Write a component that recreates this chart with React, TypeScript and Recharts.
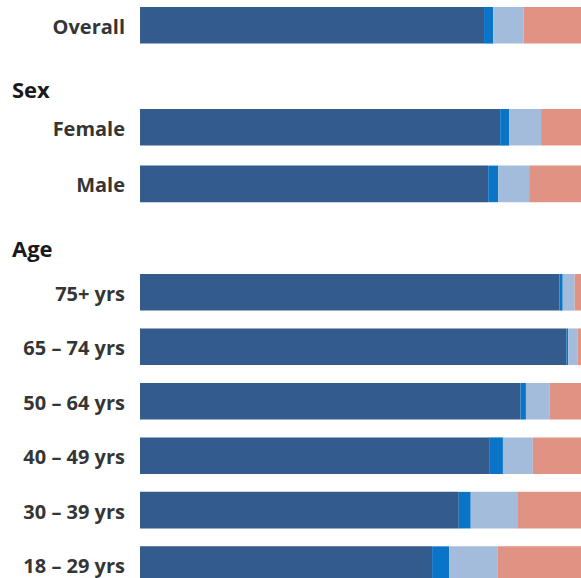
import React from 'react';
import { BarChart, Bar, XAxis, YAxis } from 'recharts';

// Categories (row labels) and their section
const categories = ['Overall', 'Female', 'Male', '75+ yrs', '65 – 74 yrs', '50 – 64 yrs', '40 – 49 yrs', '30 – 39 yrs', '18 – 29 yrs'];
const sections = ['', 'Sex', 'Sex', 'Age', 'Age', 'Age', 'Age', 'Age', 'Age'];

// Stacked shares (percent of total)
const segDark = [74.8, 78.3, 75.7, 91.2, 92.7, 82.7, 75.9, 69.3, 63.5];
const segBlue = [2.0, 2.0, 2.2, 0.7, 0.4, 1.2, 3.0, 2.6, 3.7];
const segLight = [6.6, 6.9, 6.7, 2.6, 2.0, 5.2, 6.5, 10.1, 10.5];
const segSalmon = [16.6, 12.8, 15.4, 5.5, 4.9, 10.9, 14.6, 18.0, 22.3];

const colors = { dark: '#335b8c', blue: '#0a74c8', light: '#a3bcdc', salmon: '#e09383' };

const rowsFor = (section: string) =>
  categories
    .map((name, i) => ({ name, section: sections[i], dark: segDark[i], blue: segBlue[i], light: segLight[i], salmon: segSalmon[i] }))
    .filter((r) => r.section === section);

function RowTick(props: any) {
  const { x, y, payload } = props;
  return (
    <text x={x} y={y} dy={8.5} textAnchor="end" fill="#353535" fontSize={20} fontWeight={700} fontFamily="Open Sans">
      {payload.value}
    </text>
  );
}

function Group({ section, top, height }: { section: string; top: number; height: number }) {
  const rows = rowsFor(section);
  return (
    <div style={{ position: 'absolute', left: 0, top }}>
      <BarChart layout="vertical" width={600} height={height} data={rows} margin={{ top: 0, right: 0, bottom: 0, left: 0 }}>
        <XAxis type="number" domain={[0, 100]} hide />
        <YAxis type="category" dataKey="name" width={140} axisLine={false} tickLine={false} tickSize={0} tickMargin={15} tick={<RowTick />} interval={0} />
        <Bar dataKey="dark" stackId="s" fill={colors.dark} barSize={36.6} isAnimationActive={false} />
        <Bar dataKey="blue" stackId="s" fill={colors.blue} barSize={36.6} isAnimationActive={false} />
        <Bar dataKey="light" stackId="s" fill={colors.light} barSize={36.6} isAnimationActive={false} />
        <Bar dataKey="salmon" stackId="s" fill={colors.salmon} barSize={36.6} isAnimationActive={false} />
      </BarChart>
    </div>
  );
}

const headingStyle: React.CSSProperties = {
  position: 'absolute',
  left: 12,
  fontFamily: 'Open Sans',
  fontWeight: 700,
  fontSize: 22,
  lineHeight: 1,
  color: '#1a1a1a',
  margin: 0,
};

export default function App() {
  return (
    <div style={{ position: 'absolute', left: 0, top: 0, width: 581, height: 578, overflow: 'hidden', background: '#ffffff' }}>
      <Group section="" top={0} height={51.4} />
      <div style={{ ...headingStyle, top: 77.8 }}>Sex</div>
      <Group section="Sex" top={99.2} height={113.2} />
      <div style={{ ...headingStyle, top: 237.2 }}>Age</div>
      <Group section="Age" top={264.8} height={326.8} />
    </div>
  );
}
